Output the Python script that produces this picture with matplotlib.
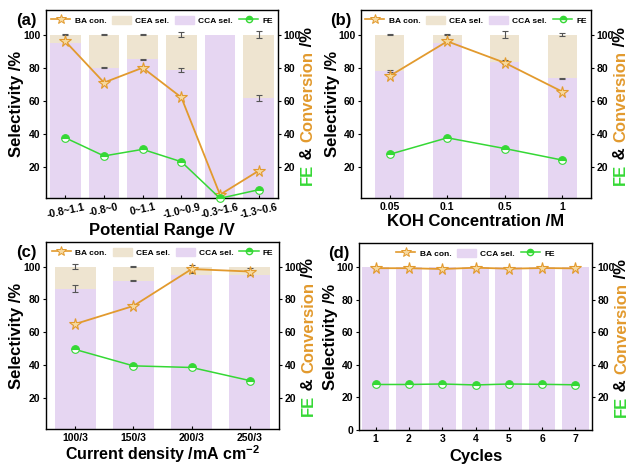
import matplotlib
matplotlib.use('Agg')
import matplotlib.pyplot as plt
import numpy as np
from matplotlib.lines import Line2D
from matplotlib.patches import Patch

plt.rcParams['font.family'] = ['Liberation Sans', 'DejaVu Sans']
plt.rcParams['font.weight'] = 'bold'
plt.rcParams['axes.labelweight'] = 'bold'
plt.rcParams['mathtext.fontset'] = 'custom'
plt.rcParams['mathtext.rm'] = 'Liberation Sans:bold'
plt.rcParams['mathtext.bf'] = 'Liberation Sans:bold'

# (a) potential range
pot_labels = ['-0.8~1.1', '-0.8~0', '0~1.1', '-1.0~0.9', '-0.3~1.6', '-1.3~0.6']
pot_cca = [95, 80, 85, 78.5, 100, 61.5]
pot_cca_err = [0, 0.4, 0.4, 1.2, 0, 1.8]
pot_top_err = [0.3, 0.3, 0.3, 1.5, 0, 2.0]
pot_ba = [96, 71, 80, 62, 3, 17.5]
pot_fe = [37.5, 26.5, 30.5, 23, 0.8, 6]

# (b) KOH concentration
koh_labels = ['0.05', '0.1', '0.5', '1']
koh_cca = [78, 95, 83.5, 73.5]
koh_cca_err = [0.8, 0, 1.0, 0.4]
koh_top_err = [0.3, 0.3, 2.0, 0.8]
koh_ba = [75, 96, 83, 65.5]
koh_fe = [27.5, 37.5, 31, 24]

# (c) current density
cur_labels = ['100/3', '150/3', '200/3', '250/3']
cur_cca = [86.5, 91.5, 95, 95]
cur_cca_err = [2.0, 0.5, 0, 0]
cur_top_err = [1.5, 0.5, 0, 0]
cur_ba = [65, 76, 98.5, 97]
cur_ba_err = [0, 0, 2.5, 2.0]
cur_fe = [49.5, 39.5, 38.5, 30.5]

# (d) cycles
cyc_labels = ['1', '2', '3', '4', '5', '6', '7']
cyc_cca = [100, 100, 100, 100, 100, 100, 100]
cyc_ba = [99.5, 99.5, 99.0, 99.8, 99.2, 99.6, 99.4]
cyc_fe = [28.0, 28.0, 28.3, 27.7, 28.3, 28.1, 27.8]

PURPLE = '#E6D6F2'
BEIGE = '#EEE4D0'
ORANGE = '#E29A2E'
STARFILL = '#F6D9A0'
GREEN = '#35D835'
ERR = '#555555'

fig = plt.figure(figsize=(6.3, 4.65), dpi=100)
W, H = 630, 465


def add_axes(l, t, r, b):
    return fig.add_axes([l / W, 1 - b / H, (r - l) / W, (b - t) / H])


def right_label(ax):
    parts = [('FE', GREEN), (' & ', 'black'), ('Conversion', ORANGE), (' /%', 'black')]
    prev = ax.annotate(parts[0][0], xy=(1, 0.07), xycoords='axes fraction',
                       xytext=(16, 0), textcoords='offset points', rotation=90,
                       ha='left', va='bottom', color=parts[0][1], fontsize=12,
                       fontweight='bold', annotation_clip=False)
    for txt, col in parts[1:]:
        prev = ax.annotate(txt, xy=(0, 1), xycoords=prev, rotation=90,
                           ha='left', va='bottom', color=col, fontsize=12,
                           fontweight='bold', annotation_clip=False)


def errs(ax, x, y, e):
    x = np.asarray(x)
    y = np.asarray(y, dtype=float)
    e = np.asarray(e, dtype=float)
    m = e > 0
    if m.any():
        ax.errorbar(x[m], y[m], yerr=e[m], fmt='none', ecolor=ERR,
                    elinewidth=0.8, capsize=2, capthick=0.8, zorder=3)


def panel(ax, letter, labels, cca, ba, fe, width, xlabel, xlab_y, ymin=1,
          cca_err=None, top_err=None, ba_err=None, cea=True, left_ticks=None,
          xlab_size=12):
    x = np.arange(len(labels))
    cca = np.asarray(cca, dtype=float)
    bb = ax.get_position()
    wpx, hpx = bb.width * W, bb.height * H
    ax.bar(x, cca, width, color=PURPLE, zorder=1)
    if cea:
        ax.bar(x, 100 - cca, width, bottom=cca, color=BEIGE, zorder=1)
    if cca_err is not None:
        errs(ax, x, cca, cca_err)
        errs(ax, x, np.full(len(x), 100.0), top_err)
    ax.set_xlim(-0.5, len(labels) - 0.5)
    ax.set_ylim(ymin, 115)
    ax.set_xticks(x)
    ax.set_xticklabels(labels)
    ax.set_yticks(left_ticks if left_ticks is not None else [20, 40, 60, 80, 100])
    ax.tick_params(axis='y', labelsize=7.5, length=2.5, width=0.8, pad=1.5)
    ax.tick_params(axis='x', labelsize=7.5, length=2.5, width=0.8, pad=3,
                   direction='in')
    ax.set_ylabel('Selectivity /%', fontsize=12, va='center')
    ax.yaxis.set_label_coords(-29 / wpx, 0.5)
    ax.set_xlabel(xlabel, fontsize=xlab_size, va='center')
    ax.xaxis.set_label_coords(0.5, -xlab_y / hpx)
    for s in ax.spines.values():
        s.set_linewidth(1.0)
        s.set_color('#333333')

    ax2 = ax.twinx()
    ax2.set_ylim(ymin, 115)
    ax2.set_yticks([20, 40, 60, 80, 100])
    ax2.tick_params(labelsize=7.5, length=2.5, width=0.8, pad=1.5)
    if ba_err is not None:
        errs(ax2, x, ba, ba_err)
    ax2.plot(x, ba, color=ORANGE, lw=1.3, marker='*', ms=8.5, mfc=STARFILL,
             mec=ORANGE, mew=0.8, zorder=4, clip_on=False)
    ax2.plot(x, fe, color=GREEN, lw=1.1, marker='o', ms=5.5, mfc=GREEN,
             fillstyle='top', mfcalt='white', mec=GREEN, mew=0.8, zorder=4,
             clip_on=False)
    right_label(ax2)

    handles = [Line2D([], [], color=ORANGE, lw=1.2, marker='*', ms=7,
                      mfc=STARFILL, mec=ORANGE, mew=0.7)]
    names = ['BA con.']
    if cea:
        handles.append(Patch(color=BEIGE))
        names.append('CEA sel.')
    handles.append(Patch(color=PURPLE))
    names.append('CCA sel.')
    handles.append(Line2D([], [], color=GREEN, lw=1.1, marker='o', ms=4.5,
                          mfc=GREEN, fillstyle='top', mfcalt='white', mec=GREEN))
    names.append('FE')
    ax2.legend(handles, names, ncol=len(names), loc='center',
               bbox_to_anchor=(0.5, 0.945), frameon=False,
               prop={'size': 6, 'weight': 'bold'}, handlelength=2.3,
               handletextpad=0.5, columnspacing=0.7, handleheight=1.2,
               borderaxespad=0)
    ax.text(-20 / wpx, 0.945, letter, transform=ax.transAxes, fontsize=12,
            fontweight='bold', ha='center', va='center')
    return ax, ax2


axa = add_axes(46, 10, 278, 198)
axb = add_axes(361, 10, 591, 198)
axc = add_axes(46, 242, 279, 429)
axd = add_axes(359, 243, 592, 430)

a1, a2 = panel(axa, '(a)', pot_labels, pot_cca, pot_ba, pot_fe, 0.8,
               'Potential Range /V', 33, cca_err=pot_cca_err,
               top_err=pot_top_err)
for lab in a1.get_xticklabels():
    lab.set_rotation(12)
panel(axb, '(b)', koh_labels, koh_cca, koh_ba, koh_fe, 0.5,
      'KOH Concentration /M', 23, cca_err=koh_cca_err, top_err=koh_top_err)
panel(axc, '(c)', cur_labels, cur_cca, cur_ba, cur_fe, 0.7,
      r'Current density /mA cm$^{\mathbf{-2}}$', 25.5, cca_err=cur_cca_err,
      top_err=cur_top_err, ba_err=cur_ba_err, xlab_size=11.5)
panel(axd, '(d)', cyc_labels, cyc_cca, cyc_ba, cyc_fe, 0.8, 'Cycles', 26,
      ymin=0, cea=False, left_ticks=[0, 20, 40, 60, 80, 100])

fig.savefig('out.png', dpi=100)
